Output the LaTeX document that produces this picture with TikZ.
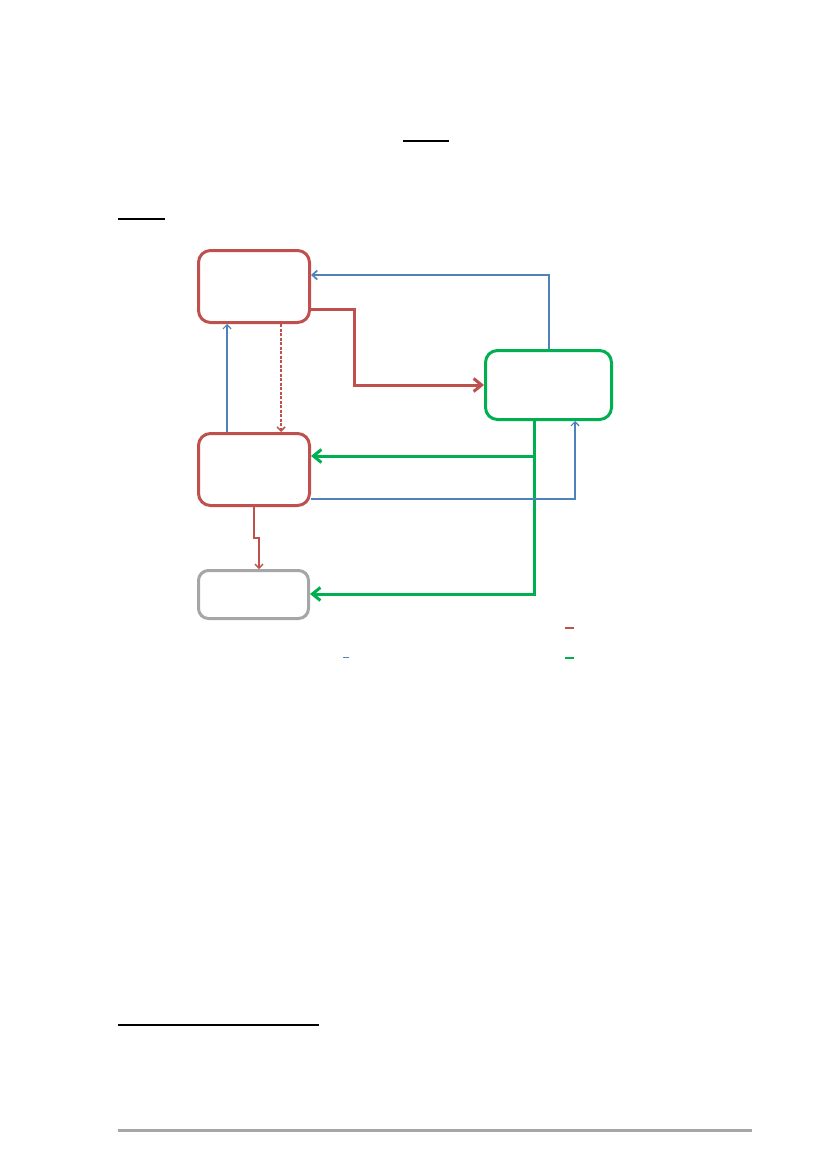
\documentclass[tikz,border=0pt]{standalone}
\usetikzlibrary{arrows.meta}
\definecolor{cred}{HTML}{C0504D}
\definecolor{cgreen}{HTML}{00B050}
\definecolor{cblue}{HTML}{4F81BD}
\definecolor{cgray}{HTML}{A6A6A6}
\begin{document}
\begin{tikzpicture}[x=1pt,y=-1pt,
  box/.style={draw, line width=3pt, rounded corners=12pt, inner sep=0pt},
  thickred/.style={draw=cred, line width=3pt, -{Straight Barb[length=8pt,width=13pt]}},
  thickgreen/.style={draw=cgreen, line width=3pt, -{Straight Barb[length=8pt,width=13pt]}},
  thinblue/.style={draw=cblue, line width=1.2pt, -{Straight Barb[length=4pt,width=8pt]}},
  midblue/.style={draw=cblue, line width=1.7pt, -{Straight Barb[length=5pt,width=9pt]}},
  thinred/.style={draw=cred, line width=1.4pt, -{Straight Barb[length=4pt,width=8pt]}},
  dashred/.style={draw=cred, line width=1.5pt, dash pattern=on 3pt off 1.5pt, -{Straight Barb[length=4pt,width=8pt]}},
  rule/.style={line width=1.5pt},
]
\useasboundingbox (0,0) rectangle (827,1169);
\fill[white] (0,0) rectangle (827,1169);

% boxes
\node[box, draw=cred, minimum width=111pt, minimum height=72pt] (A) at (254,286.5) {};
\node[box, draw=cred, minimum width=111pt, minimum height=72pt] (B) at (254,469.5) {};
\node[box, draw=cgray, rounded corners=10pt, minimum width=110pt, minimum height=48pt] (C) at (253.5,594.5) {};
\node[box, draw=cgreen, minimum width=126pt, minimum height=69pt] (G) at (548.5,385) {};

% helper coordinates
\coordinate (bt) at (549,275);
\coordinate (rA) at (354,309);
\coordinate (bx) at (227,0);
\coordinate (rx) at (281,0);
\coordinate (gx) at (534,0);
\coordinate (gy) at (534,456);
\coordinate (gb) at (534,594);
\coordinate (bb) at (575,499);
\coordinate (r1) at (254,538);
\coordinate (r2) at (259,538);

% connectors
\draw[midblue] (G.north -| bt) |- (A.east |- bt);
\draw[thickred] (A.east |- rA) -- (rA) |- (G.west);
\draw[thinblue] (B.north -| bx) -- (A.south -| bx);
\draw[dashred] (A.south -| rx) -- (B.north -| rx);
\draw[thickgreen] (gy) -- (B.east |- gy);
\draw[thickgreen] (G.south -| gx) -- (gb) -- (C.east |- gb);
\draw[thinblue] (B.east |- bb) -| (G.south -| bb);
\draw[thinred] (B.south -| r1) -- (r1) -- (r2) -- (C.north -| r2);

% legend marks
\draw[cred, line width=1.5pt] (565,628) -- (574,628);
\draw[cgreen, line width=1.5pt] (565,658) -- (574,658);
\draw[cblue, line width=1pt] (343,657) -- (349,657);

% rules
\draw[rule] (403,141) -- (449,141);
\draw[rule] (118,219) -- (165,219);
\draw[rule] (118,1025) -- (319,1025);
\draw[cgray, line width=3pt] (118,1130) -- (752,1130);
\end{tikzpicture}
\end{document}
